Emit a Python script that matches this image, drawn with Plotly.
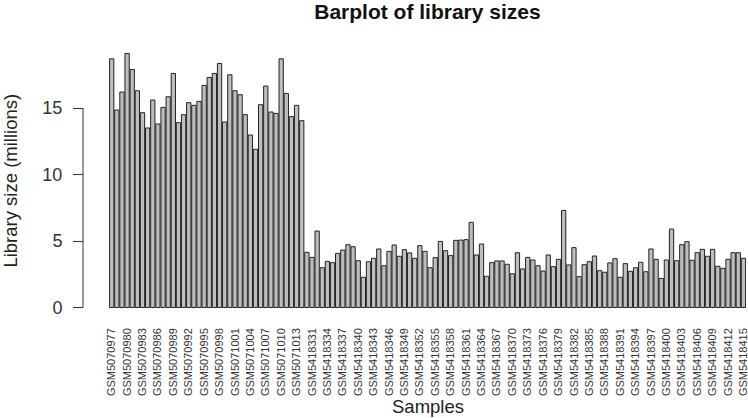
import plotly.graph_objects as go

# sample names: first batch GSM5070977..GSM5071014, then GSM5418330..GSM5418415
batch1_ids = list(range(5070977, 5071015))
batch2_ids = list(range(5418330, 5418416))
samples = ["GSM%d" % i for i in batch1_ids + batch2_ids]

# library sizes in millions
sizes_batch1 = [
    18.7, 14.85, 16.2, 19.1, 17.9, 16.3, 14.65, 13.5, 15.6, 13.8,
    15.05, 15.85, 17.6, 13.9, 14.5, 15.4, 15.2, 15.5, 16.7, 17.3,
    17.6, 18.35, 13.95, 17.5, 16.3, 16.0, 14.5, 12.97, 11.9, 15.25,
    16.65, 14.7, 14.6, 18.7, 16.1, 14.35, 15.2, 14.05,
]
sizes_batch2 = [
    4.15, 3.77, 5.75, 2.99, 3.47, 3.37, 4.07, 4.32, 4.72, 4.57,
    3.52, 2.27, 3.44, 3.7, 4.4, 3.14, 4.22, 4.7, 3.85, 4.35,
    4.1, 3.7, 4.65, 4.22, 2.99, 3.75, 4.97, 4.27, 3.9, 5.05,
    5.07, 5.1, 6.4, 3.95, 4.77, 2.35, 3.37, 3.5, 3.5, 3.25,
    2.54, 4.12, 2.9, 3.77, 3.57, 3.14, 2.74, 3.95, 3.07, 3.62,
    7.3, 3.2, 4.5, 2.32, 3.22, 3.44, 3.87, 2.77, 2.65, 3.35,
    3.67, 2.27, 3.3, 2.72, 2.99, 3.4, 2.69, 4.4, 3.62, 2.19,
    3.57, 5.9, 3.52, 4.72, 4.95, 3.55, 4.12, 4.37, 3.85, 4.37,
    3.1, 2.95, 3.62, 4.12, 4.12, 3.7,
]
lib_size = sizes_batch1 + sizes_batch2

y_ticks = [0, 5, 10, 15]
x_ticks = samples[::3]

FONT = "Liberation Sans, Arial, Helvetica, sans-serif"

fig = go.Figure()
fig.add_trace(go.Bar(
    x=samples, y=lib_size,
    marker=dict(color="#bebebe", line=dict(color="#222222", width=1)),
    hoverinfo="x+y",
))

fig.update_layout(
    width=748, height=418,
    margin=dict(l=83, r=2, t=43, b=100, autoexpand=False),
    plot_bgcolor="white", paper_bgcolor="white",
    font=dict(family=FONT, color="#222222"),
    showlegend=False,
    bargap=0.167,
    title=dict(text="<b>Barplot of library sizes</b>", x=0.5715, xanchor="center",
               xref="container", yref="container",
               y=0.972, yanchor="middle", font=dict(size=21, color="#111111")),
    xaxis=dict(
        domain=[0.0394, 1],
        type="category",
        tickvals=x_ticks, ticktext=x_ticks,
        tickangle=-90, tickfont=dict(size=11, color="#333333"),
        ticks="", ticklabelstandoff=7,
        showline=False, showgrid=False, zeroline=False,
        range=[-0.5, len(samples) - 0.5],
    ),
    yaxis=dict(
        anchor="free", position=0,
        range=[-0.79, 19.89],
        tickvals=y_ticks,
        ticks="outside", ticklen=10, tickcolor="#333333", tickwidth=1,
        tickfont=dict(size=18, color="#333333"), ticklabelstandoff=7,
        showline=False, showgrid=False, zeroline=False,
    ),
)

# R-style axis line only spanning the tick range
fig.add_shape(type="line", xref="paper", yref="y", x0=0, x1=0,
              y0=min(y_ticks), y1=max(y_ticks), line=dict(color="#333333", width=1))

fig.add_annotation(text="Library size (millions)", xref="paper", yref="paper",
                   x=-0.110, y=0.5, textangle=-90, showarrow=False,
                   xanchor="center", yanchor="middle",
                   font=dict(size=18.5, color="#222222"))
fig.add_annotation(text="Samples", xref="x domain", yref="paper",
                   x=0.5, y=-0.3236, showarrow=False,
                   xanchor="center", yanchor="middle",
                   font=dict(size=18.5, color="#222222"))

# the default page has an 8px body margin; drop it so the figure fills the window
fig.write_html("out.html", config={"displayModeBar": False},
               post_script="document.body.style.margin='0';")
